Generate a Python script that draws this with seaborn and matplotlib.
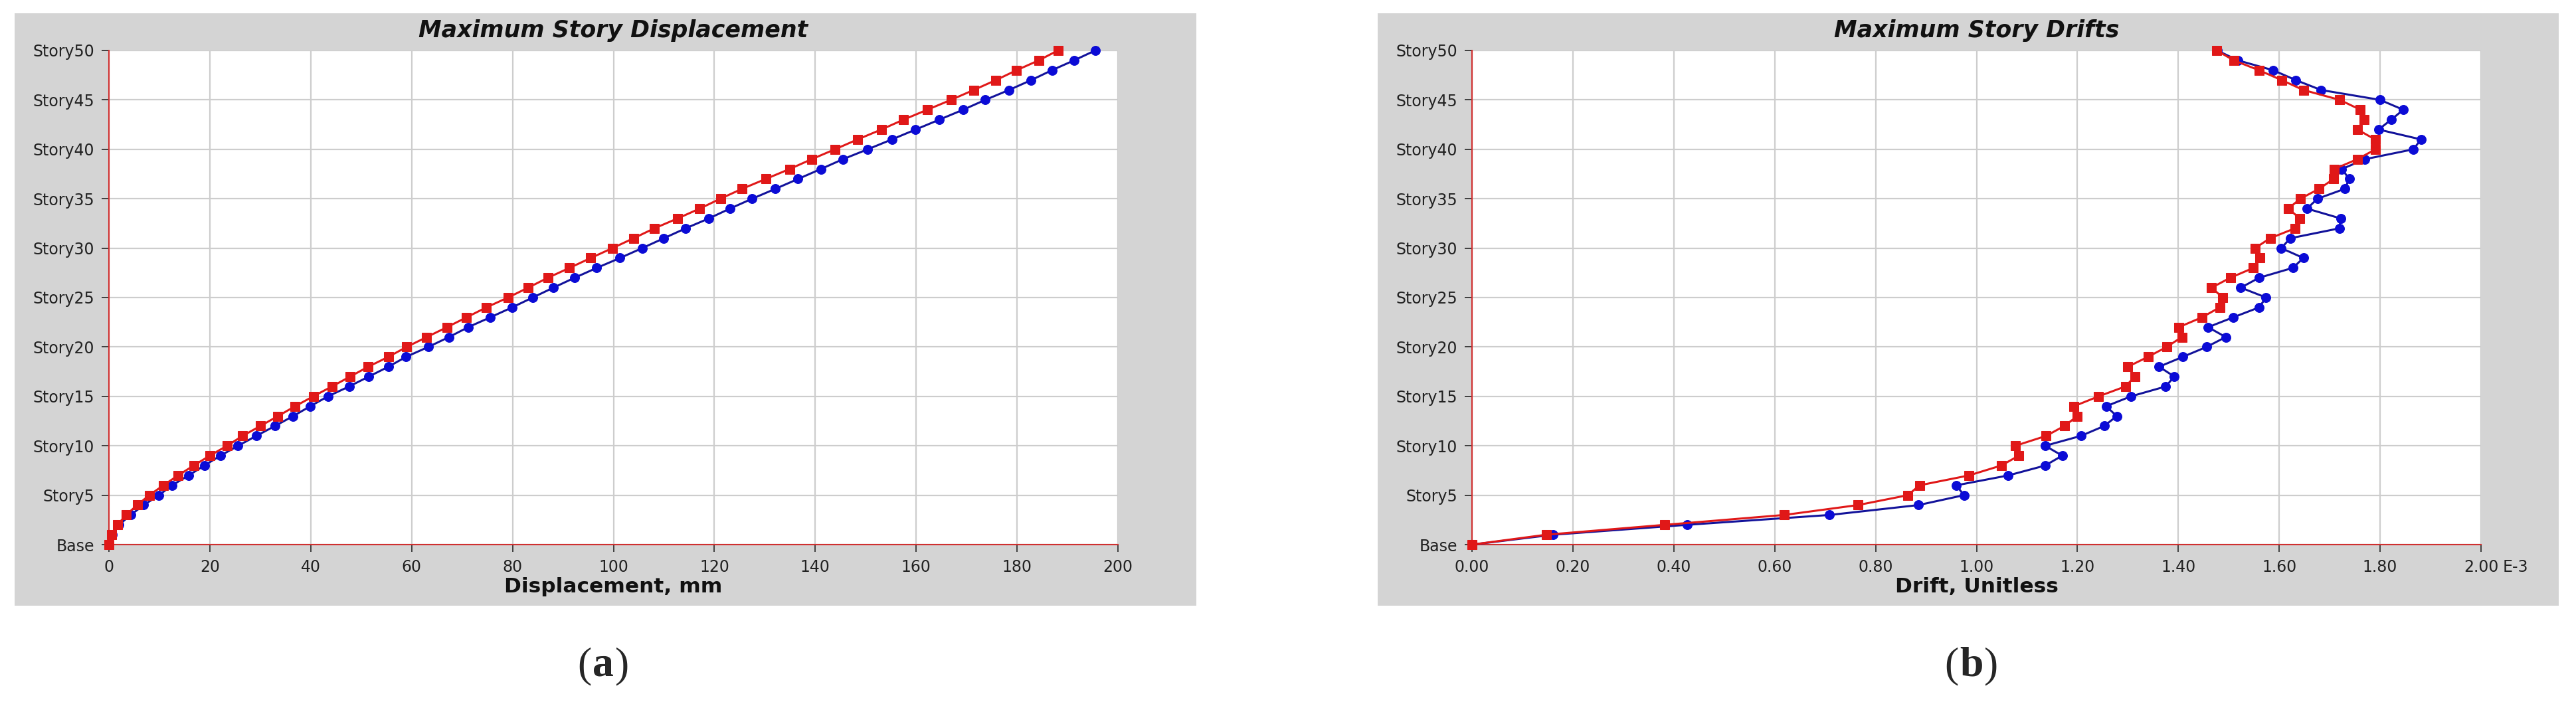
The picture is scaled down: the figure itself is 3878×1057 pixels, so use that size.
import numpy as np
import pandas as pd
import matplotlib
matplotlib.use("Agg")
import matplotlib.pyplot as plt
import seaborn as sns
from matplotlib.patches import Rectangle
from matplotlib import transforms

# ---------------- data ----------------
stories = list(range(51))  # 0 = Base ... 50 = Story50
story_ticks = [0, 5, 10, 15, 20, 25, 30, 35, 40, 45, 50]
story_labels = ["Base", "Story5", "Story10", "Story15", "Story20", "Story25",
                "Story30", "Story35", "Story40", "Story45", "Story50"]

disp_red = [0, 0.5, 1.7, 3.4, 5.6, 8.0, 10.8, 13.7, 16.8, 20.0,
            23.4, 26.5, 30.0, 33.5, 36.9, 40.5, 44.2, 47.8, 51.4, 55.4,
            59.0, 63.0, 67.0, 70.9, 74.8, 79.1, 83.1, 87.0, 91.3, 95.5,
            99.8, 104.0, 108.1, 112.7, 117.1, 121.2, 125.5, 130.2, 134.9, 139.3,
            143.9, 148.4, 153.1, 157.5, 162.2, 166.9, 171.4, 175.8, 179.9, 184.3,
            188.1]
disp_blue = [0, 0.7, 2.0, 4.3, 6.9, 9.9, 12.5, 15.8, 18.9, 22.1,
             25.6, 29.2, 32.9, 36.5, 39.9, 43.4, 47.6, 51.5, 55.4, 58.9,
             63.3, 67.4, 71.2, 75.6, 79.9, 84.0, 88.1, 92.3, 96.7, 101.3,
             105.7, 110.0, 114.3, 118.9, 123.1, 127.5, 132.1, 136.6, 141.1, 145.5,
             150.4, 155.2, 159.9, 164.6, 169.3, 173.7, 178.4, 182.8, 186.9, 191.3,
             195.5]

drift_red = [0, 0.147, 0.382, 0.619, 0.765, 0.864, 0.887, 0.985, 1.049, 1.084,
             1.077, 1.138, 1.174, 1.200, 1.193, 1.242, 1.295, 1.314, 1.300, 1.340,
             1.377, 1.407, 1.401, 1.447, 1.482, 1.488, 1.466, 1.503, 1.549, 1.561,
             1.552, 1.582, 1.631, 1.641, 1.618, 1.642, 1.679, 1.708, 1.709, 1.755,
             1.791, 1.790, 1.755, 1.768, 1.761, 1.720, 1.648, 1.605, 1.560, 1.510,
             1.476]
drift_blue = [0, 0.161, 0.426, 0.709, 0.885, 0.975, 0.960, 1.063, 1.136, 1.170,
              1.136, 1.207, 1.253, 1.278, 1.257, 1.306, 1.375, 1.392, 1.362, 1.409,
              1.456, 1.494, 1.459, 1.509, 1.560, 1.574, 1.524, 1.560, 1.627, 1.648,
              1.604, 1.622, 1.719, 1.722, 1.655, 1.676, 1.730, 1.739, 1.724, 1.770,
              1.866, 1.881, 1.797, 1.822, 1.846, 1.800, 1.683, 1.633, 1.588, 1.518,
              1.477]

disp_ticks = [0, 20, 40, 60, 80, 100, 120, 140, 160, 180, 200]
disp_tick_labels = [str(t) for t in disp_ticks]
drift_ticks = [0.0, 0.2, 0.4, 0.6, 0.8, 1.0, 1.2, 1.4, 1.6, 1.8, 2.0]
drift_tick_labels = ["0.00", "0.20", "0.40", "0.60", "0.80", "1.00",
                     "1.20", "1.40", "1.60", "1.80", "2.00"]

titles = ["Maximum Story Displacement", "Maximum Story Drifts"]
xlabels = ["Displacement, mm", "Drift, Unitless"]
panel_tags = ["a", "b"]

# ---------------- style ----------------
sns.set_theme(style="white")
plt.rcParams['font.family'] = ['DejaVu Sans']

RED = '#E01818'
BLUE_M = '#0B0BD6'
BLUE_L = '#12129A'
GRAY_BG = '#D4D4D4'
GRID = '#CDCDCD'
SPINE = '#D03030'

TICK_LEN = 8
TICK_PAD = 8

W, H = 3878, 1057
fig = plt.figure(figsize=(W / 100, H / 100), dpi=100, facecolor='white')

panels = [
    dict(bg=(22, 1801), ax=(164, 1683)),
    dict(bg=(2074, 3852), ax=(2216, 3735)),
]
ax_top, ax_bot = 76, 820

axes = []
for p in panels:
    x0, x1 = p['bg']
    fig.patches.append(Rectangle((x0 / W, (H - 912) / H), (x1 - x0) / W, (912 - 20) / H,
                                 transform=fig.transFigure, facecolor=GRAY_BG,
                                 edgecolor='none', zorder=-5))
    a0, a1 = p['ax']
    ax = fig.add_axes([a0 / W, (H - ax_bot) / H, (a1 - a0) / W, (ax_bot - ax_top) / H])
    ax.set_zorder(2)
    axes.append(ax)

series = [(disp_blue, disp_red, disp_ticks, disp_tick_labels, (0, 200)),
          (drift_blue, drift_red, drift_ticks, drift_tick_labels, (0, 2.0))]

ax_h = ax_bot - ax_top
for i, ax in enumerate(axes):
    blue, red, xt, xtl, xl = series[i]
    ax.set_facecolor('white')
    sns.lineplot(x=blue, y=stories, sort=False, estimator=None, ax=ax,
                 color=BLUE_L, linewidth=2.2, marker='o', markersize=10,
                 markerfacecolor=BLUE_M, markeredgecolor=BLUE_M,
                 clip_on=False, zorder=3)
    sns.lineplot(x=red, y=stories, sort=False, estimator=None, ax=ax,
                 color=RED, linewidth=2.2, marker='s', markersize=9.5,
                 markerfacecolor=RED, markeredgecolor=RED,
                 clip_on=False, zorder=4)
    ax.set_xlim(*xl)
    ax.set_ylim(0, 50)
    ax.set_xticks(xt)
    ax.set_xticklabels(xtl)
    ax.set_yticks(story_ticks)
    ax.set_yticklabels(story_labels)
    ax.grid(True, color=GRID, linewidth=1.6)
    ax.set_axisbelow(True)
    for s in ['top', 'right']:
        ax.spines[s].set_visible(False)
    for s in ['left', 'bottom']:
        ax.spines[s].set_visible(True)
        ax.spines[s].set_color(SPINE)
        ax.spines[s].set_linewidth(1.5)
        ax.spines[s].set_zorder(2.5)
    ax.tick_params(axis='both', which='major', bottom=True, left=True,
                   direction='out', length=TICK_LEN, width=1.3, color='#333333',
                   labelsize=17, labelcolor='#222222', pad=TICK_PAD)
    ax.set_ylabel('')
    ax.set_xlabel(xlabels[i], fontsize=22.5, fontweight='bold', color='#111111')
    ax.xaxis.set_label_coords(0.5, -64 / ax_h)
    ax.xaxis.label.set_va('center')
    ax.text(0.5, 1 + 30 / ax_h, titles[i], transform=ax.transAxes,
            ha='center', va='center', fontsize=25, fontweight='bold',
            fontstyle='italic', color='#111111')

# exponent note on drift axis, sharing the tick labels' baseline
tr = transforms.blended_transform_factory(axes[1].transData, axes[1].transAxes)
tr = tr + transforms.ScaledTranslation(33 / 100, -(TICK_LEN + TICK_PAD) / 72,
                                       fig.dpi_scale_trans)
axes[1].text(2.0, 0, "E-3", transform=tr, ha='left', va='top',
             fontsize=17, color='#222222')

# panel tags (a), (b)
serif = ['Liberation Serif', 'DejaVu Serif']
for cx, tag, half in zip([908, 2968], panel_tags, [18, 19]):
    y = (H - 1003) / H
    fig.text((cx - half) / W, y, "(", ha='right', va='center', fontsize=46, family=serif)
    fig.text(cx / W, y, tag, ha='center', va='center', fontsize=46,
             fontweight='bold', family=serif)
    fig.text((cx + half) / W, y, ")", ha='left', va='center', fontsize=46, family=serif)

fig.savefig("out.png", dpi=100, facecolor='white')
